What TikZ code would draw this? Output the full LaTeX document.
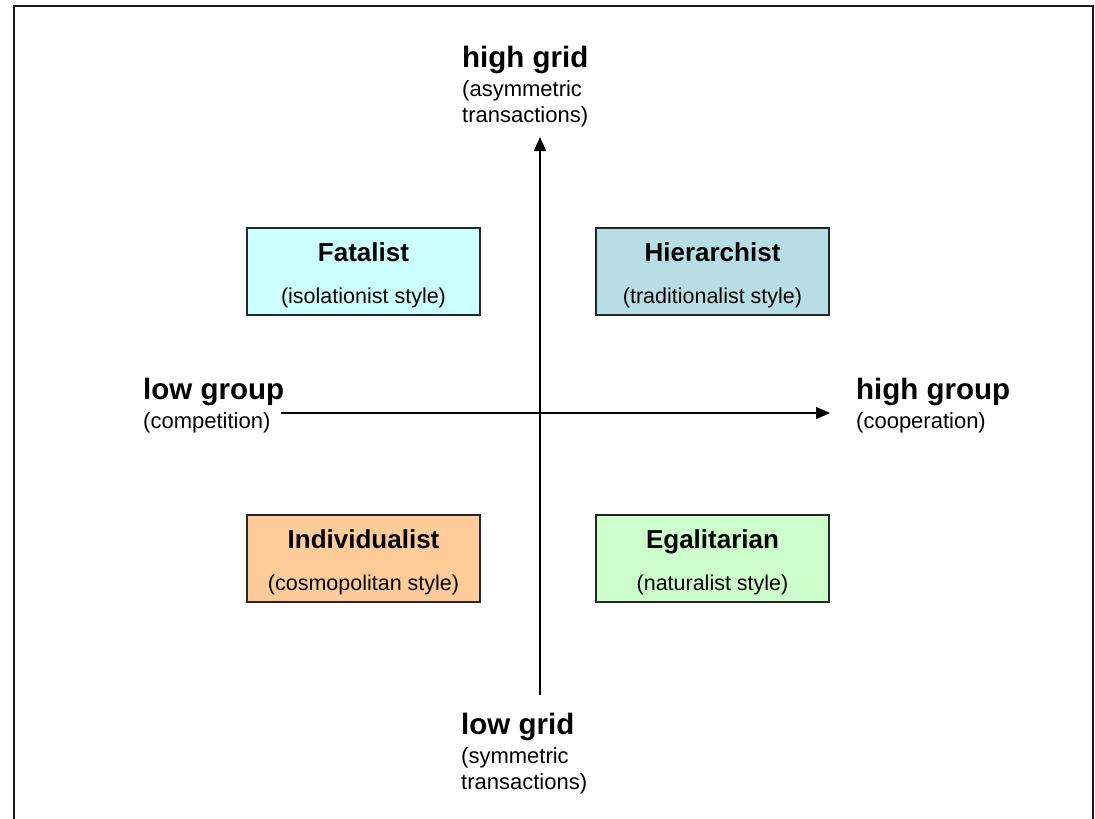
\documentclass[tikz,border=0pt]{standalone}
\usepackage{fontspec}
\setmainfont{Liberation Sans}
\usetikzlibrary{positioning, arrows.meta}

\definecolor{fatalcol}{HTML}{CCFFFF}
\definecolor{hiercol}{HTML}{B7DEE4}
\definecolor{indivcol}{HTML}{FFCC99}
\definecolor{egalcol}{HTML}{CCFFCC}

\newcommand{\axishead}[1]{{\fontsize{29.5}{26}\selectfont\bfseries #1}}
\newcommand{\quadhead}[1]{{\fontsize{26}{42}\selectfont\bfseries\rule{0pt}{26.5pt}#1}}

\begin{document}
\begin{tikzpicture}[x=1pt, y=-1pt, >={Triangle[length=14pt, width=12pt]},
        quad/.style={draw=black!85, line width=1.2pt, minimum width=233pt,
            minimum height=87pt, inner sep=0pt, align=center,
            font=\fontsize{21.5}{42}\selectfont},
        axistext/.style={anchor=north west, inner sep=0pt, align=left,
            font=\fontsize{22}{26}\selectfont}]
    \useasboundingbox (0,0) rectangle (1095,819);

    % frame
    \draw[black!90, line width=2pt] (14,819) -- (14,6) -- (1093,6) -- (1093,819);

    % axis labels
    \node[axistext] (gridhigh) at (462,46) {\axishead{high grid}\\[3pt](asymmetric\\transactions)};
    \node[axistext] (gridlow) at (461,713) {\axishead{low grid}\\[3pt](symmetric\\transactions)};
    \node[axistext] (grouplow) at (143,378) {\axishead{low group}\\[3pt](competition)};
    \node[axistext] (grouphigh) at (856,378) {\axishead{high group}\\[3pt](cooperation)};

    % axes
    \coordinate (gridbottom) at (540,695);
    \coordinate (gridtop) at (540,137);
    \coordinate (groupleft) at (281,413);
    \coordinate (groupright) at (830,413);
    \draw[->, line width=1.4pt] (gridbottom) -- (gridtop);
    \draw[->, line width=1.4pt] (groupleft) -- (groupright);

    % the four ways of life
    \node[quad, fill=fatalcol] (fatal) at (363.5,271.5)
        {\quadhead{Fatalist}\\(isolationist style)};
    \node[quad, fill=hiercol] (hier) at (712.5,271.5)
        {\quadhead{Hierarchist}\\(traditionalist style)};
    \node[quad, fill=indivcol] (indiv) at (363.5,558.5)
        {\quadhead{Individualist}\\(cosmopolitan style)};
    \node[quad, fill=egalcol] (egal) at (712.5,558.5)
        {\quadhead{Egalitarian}\\(naturalist style)};
\end{tikzpicture}
\end{document}
